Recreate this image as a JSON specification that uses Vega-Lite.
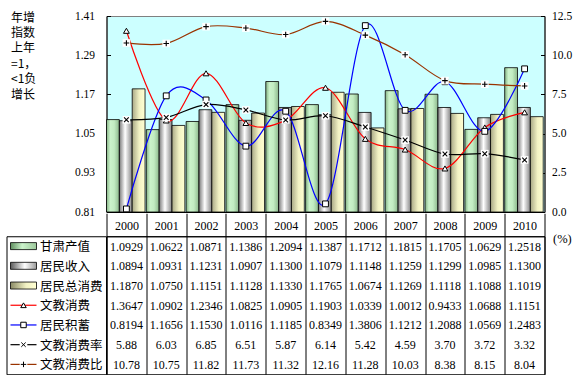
{
  "$schema": "https://vega.github.io/schema/vega-lite/v6.json",
  "padding": {"left": 5.5, "top": 9, "right": 0, "bottom": 0},
  "background": "white",
  "data": {"values": [
    {"year": "2000", "甘肃产值": 1.0929, "居民收入": 1.0894, "居民总消费": 1.1870, "文教消费": 1.3647, "居民积蓄": 0.8194, "文教消费率": 5.88, "文教消费比": 10.78},
    {"year": "2001", "甘肃产值": 1.0622, "居民收入": 1.0931, "居民总消费": 1.0750, "文教消费": 1.0902, "居民积蓄": 1.1656, "文教消费率": 6.03, "文教消费比": 10.75},
    {"year": "2002", "甘肃产值": 1.0871, "居民收入": 1.1231, "居民总消费": 1.1151, "文教消费": 1.2346, "居民积蓄": 1.1530, "文教消费率": 6.85, "文教消费比": 11.82},
    {"year": "2003", "甘肃产值": 1.1386, "居民收入": 1.0907, "居民总消费": 1.1128, "文教消费": 1.0825, "居民积蓄": 1.0116, "文教消费率": 6.51, "文教消费比": 11.73},
    {"year": "2004", "甘肃产值": 1.2094, "居民收入": 1.1300, "居民总消费": 1.1330, "文教消费": 1.0905, "居民积蓄": 1.1185, "文教消费率": 5.87, "文教消费比": 11.32},
    {"year": "2005", "甘肃产值": 1.1387, "居民收入": 1.1079, "居民总消费": 1.1765, "文教消费": 1.1903, "居民积蓄": 0.8349, "文教消费率": 6.14, "文教消费比": 12.16},
    {"year": "2006", "甘肃产值": 1.1712, "居民收入": 1.1148, "居民总消费": 1.0674, "文教消费": 1.0339, "居民积蓄": 1.3806, "文教消费率": 5.42, "文教消费比": 11.28},
    {"year": "2007", "甘肃产值": 1.1815, "居民收入": 1.1259, "居民总消费": 1.1269, "文教消费": 1.0012, "居民积蓄": 1.1212, "文教消费率": 4.59, "文教消费比": 10.03},
    {"year": "2008", "甘肃产值": 1.1705, "居民收入": 1.1299, "居民总消费": 1.1118, "文教消费": 0.9433, "居民积蓄": 1.2088, "文教消费率": 3.70, "文教消费比": 8.38},
    {"year": "2009", "甘肃产值": 1.0629, "居民收入": 1.0985, "居民总消费": 1.1088, "文教消费": 1.0688, "居民积蓄": 1.0569, "文教消费率": 3.72, "文教消费比": 8.15},
    {"year": "2010", "甘肃产值": 1.2518, "居民收入": 1.1300, "居民总消费": 1.1019, "文教消费": 1.1151, "居民积蓄": 1.2483, "文教消费率": 3.32, "文教消费比": 8.04}
  ]},
  "transform": [{"fold": ["甘肃产值", "居民收入", "居民总消费", "文教消费", "居民积蓄", "文教消费率", "文教消费比"], "as": ["s", "v"]}],
  "spacing": -5.75,
  "resolve": {"scale": {"x": "independent", "y": "independent", "shape": "independent", "color": "independent"}},
  "vconcat": [
    {
      "spacing": 0,
      "bounds": "flush",
      "resolve": {"scale": {"x": "independent", "y": "independent", "shape": "independent", "color": "independent"}},
      "hconcat": [
        {
          "width": 99.5,
          "height": 196,
          "view": {"stroke": null},
          "mark": {"type": "rule", "opacity": 0},
          "encoding": {}
        },
        {
          "width": 438,
          "height": 196,
          "view": {"fill": "#ccffff", "stroke": "#808080"},
          "resolve": {"scale": {"y": "independent"}, "axis": {"y": "independent"}},
          "encoding": {
            "x": {"field": "year", "type": "ordinal", "scale": {"paddingInner": 0, "paddingOuter": 0}, "axis": {"labels": false, "ticks": false, "title": null, "domainColor": "black", "grid": false}}
          },
          "layer": [
            {
              "encoding": {
                "y": {"field": "v", "type": "quantitative", "scale": {"domain": [0.81, 1.41], "nice": false, "zero": false},
                  "axis": {"values": [0.81, 0.93, 1.05, 1.17, 1.29, 1.41], "format": ".2f", "tickSize": -4, "tickColor": "black", "domainColor": "black", "labelPadding": 16, "labelFont": "Liberation Serif", "labelFontSize": 11.5, "labelColor": "black", "grid": false,
                    "title": ["年增", "指数", "上年", "=1，", "<1负", "增长"], "titleAngle": 0, "titleAlign": "left", "titleBaseline": "top", "titleX": -96, "titleY": -4, "titleFont": "Noto Sans CJK SC", "titleFontSize": 12, "titleFontWeight": "normal", "titleLineHeight": 15.4, "titleColor": "black"}}
              },
              "layer": [
                {
                  "transform": [{"filter": "datum.s === '甘肃产值'"}],
                  "mark": {"type": "bar", "stroke": "black", "strokeWidth": 0.8, "fill": {"gradient": "linear", "x1": 0, "y1": 0, "x2": 1, "y2": 0, "stops": [{"offset": 0, "color": "#86b486"}, {"offset": 0.3, "color": "#cbf3cb"}, {"offset": 0.6, "color": "#c2ecc2"}, {"offset": 1, "color": "#8cb88c"}]}},
                  "encoding": {
                    "xOffset": {"field": "s", "type": "nominal", "scale": {"domain": ["甘肃产值", "居民收入", "居民总消费"], "paddingInner": 0, "paddingOuter": 0.05, "align": 0}},
                    "y2": {"datum": 0.81}
                  }
                },
                {
                  "transform": [{"filter": "datum.s === '居民收入'"}],
                  "mark": {"type": "bar", "stroke": "black", "strokeWidth": 0.8, "fill": {"gradient": "linear", "x1": 0, "y1": 0, "x2": 1, "y2": 0, "stops": [{"offset": 0, "color": "#7a7a7a"}, {"offset": 0.45, "color": "#ffffff"}, {"offset": 1, "color": "#858585"}]}},
                  "encoding": {
                    "xOffset": {"field": "s", "type": "nominal", "scale": {"domain": ["甘肃产值", "居民收入", "居民总消费"], "paddingInner": 0, "paddingOuter": 0.05, "align": 0}},
                    "y2": {"datum": 0.81}
                  }
                },
                {
                  "transform": [{"filter": "datum.s === '居民总消费'"}],
                  "mark": {"type": "bar", "stroke": "black", "strokeWidth": 0.8, "fill": {"gradient": "linear", "x1": 0, "y1": 0, "x2": 1, "y2": 0, "stops": [{"offset": 0, "color": "#a8a886"}, {"offset": 0.55, "color": "#f2f2c4"}, {"offset": 1, "color": "#ffffd2"}]}},
                  "encoding": {
                    "xOffset": {"field": "s", "type": "nominal", "scale": {"domain": ["甘肃产值", "居民收入", "居民总消费"], "paddingInner": 0, "paddingOuter": 0.05, "align": 0}},
                    "y2": {"datum": 0.81}
                  }
                },
                {
                  "transform": [{"filter": "datum.s === '文教消费'"}],
                  "mark": {"type": "line", "color": "#ff0000", "strokeWidth": 1.2, "interpolate": "cardinal"}
                },
                {
                  "transform": [{"filter": "datum.s === '居民积蓄'"}],
                  "mark": {"type": "line", "color": "#0000ff", "strokeWidth": 1.2, "interpolate": "cardinal"}
                },
                {
                  "transform": [{"filter": "datum.s === '文教消费' || datum.s === '居民积蓄'"}],
                  "mark": {"type": "point", "filled": true, "fill": "white", "stroke": "black", "strokeWidth": 1, "size": 34, "opacity": 1},
                  "encoding": {
                    "shape": {"field": "s", "type": "nominal", "legend": null, "scale": {"domain": ["文教消费", "居民积蓄", "文教消费率", "文教消费比"], "range": ["triangle-up", "square", "M-1,-1L1,1M-1,1L1,-1", "M-1.2,0H1.2M0,-1.2V1.2"]}}
                  }
                }
              ]
            },
            {
              "encoding": {
                "y": {"field": "v", "type": "quantitative", "scale": {"domain": [0, 12.5], "nice": false, "zero": true},
                  "axis": {"orient": "right", "values": [0, 2.5, 5, 7.5, 10, 12.5], "format": ".1f", "tickSize": -4, "tickColor": "black", "domainColor": "black", "labelPadding": 11, "labelFont": "Liberation Serif", "labelFontSize": 11.5, "labelColor": "black", "grid": false, "title": null}}
              },
              "layer": [
                {
                  "transform": [{"filter": "datum.s === '文教消费率'"}],
                  "mark": {"type": "line", "color": "#000000", "strokeWidth": 1.2, "interpolate": "cardinal"}
                },
                {
                  "transform": [{"filter": "datum.s === '文教消费比'"}],
                  "mark": {"type": "line", "color": "#993300", "strokeWidth": 1.2, "interpolate": "cardinal"}
                },
                {
                  "transform": [{"filter": "datum.s === '文教消费率' || datum.s === '文教消费比'"}],
                  "mark": {"type": "point", "shape": "square", "filled": true, "color": "white", "size": 58, "opacity": 1}
                },
                {
                  "transform": [{"filter": "datum.s === '文教消费率' || datum.s === '文教消费比'"}],
                  "mark": {"type": "point", "filled": false, "stroke": "black", "strokeWidth": 1.1, "size": 22, "opacity": 1},
                  "encoding": {
                    "shape": {"field": "s", "type": "nominal", "legend": null, "scale": {"domain": ["文教消费", "居民积蓄", "文教消费率", "文教消费比"], "range": ["triangle-up", "square", "M-1,-1L1,1M-1,1L1,-1", "M-1.2,0H1.2M0,-1.2V1.2"]}}
                  }
                }
              ]
            }
          ]
        }
      ]
    },
    {
      "spacing": 0,
      "bounds": "flush",
      "resolve": {"scale": {"x": "independent", "y": "independent", "shape": "independent", "color": "independent"}},
      "hconcat": [
        {
          "width": 99.5,
          "height": 138,
          "view": {"stroke": "black", "fill": "white"},
          "transform": [{"filter": "datum.year === '2000'"}],
          "encoding": {
            "y": {"field": "s", "type": "nominal", "scale": {"domain": ["甘肃产值", "居民收入", "居民总消费", "文教消费", "居民积蓄", "文教消费率", "文教消费比"], "paddingInner": 0, "paddingOuter": 0}, "axis": null}
          },
          "layer": [
            {
              "transform": [{"filter": "datum.s === '甘肃产值'"}],
              "mark": {"type": "bar", "height": 7, "stroke": "black", "strokeWidth": 0.8, "fill": {"gradient": "linear", "x1": 0, "y1": 0, "x2": 1, "y2": 0, "stops": [{"offset": 0, "color": "#5f8f5f"}, {"offset": 0.45, "color": "#cbf3cb"}, {"offset": 1, "color": "#9cc89c"}]}},
              "encoding": {
                "x": {"datum": 4, "type": "quantitative", "scale": {"domain": [0, 99.5], "nice": false}, "axis": null},
                "x2": {"datum": 30}
              }
            },
            {
              "transform": [{"filter": "datum.s === '居民收入'"}],
              "mark": {"type": "bar", "height": 7, "stroke": "black", "strokeWidth": 0.8, "fill": {"gradient": "linear", "x1": 0, "y1": 0, "x2": 1, "y2": 0, "stops": [{"offset": 0, "color": "#5a5a5a"}, {"offset": 0.55, "color": "#ffffff"}, {"offset": 1, "color": "#9a9a9a"}]}},
              "encoding": {
                "x": {"datum": 4, "type": "quantitative", "scale": {"domain": [0, 99.5], "nice": false}, "axis": null},
                "x2": {"datum": 30}
              }
            },
            {
              "transform": [{"filter": "datum.s === '居民总消费'"}],
              "mark": {"type": "bar", "height": 7, "stroke": "black", "strokeWidth": 0.8, "fill": {"gradient": "linear", "x1": 0, "y1": 0, "x2": 1, "y2": 0, "stops": [{"offset": 0, "color": "#8a8a66"}, {"offset": 0.6, "color": "#f2f2c4"}, {"offset": 1, "color": "#ffffd2"}]}},
              "encoding": {
                "x": {"datum": 4, "type": "quantitative", "scale": {"domain": [0, 99.5], "nice": false}, "axis": null},
                "x2": {"datum": 30}
              }
            },
            {
              "transform": [{"filter": "datum.s === '文教消费' || datum.s === '居民积蓄' || datum.s === '文教消费率' || datum.s === '文教消费比'"}],
              "mark": {"type": "rule", "strokeWidth": 1.2},
              "encoding": {
                "x": {"datum": 4, "type": "quantitative", "scale": {"domain": [0, 99.5], "nice": false}, "axis": null},
                "x2": {"datum": 30},
                "color": {"field": "s", "type": "nominal", "legend": null, "scale": {"domain": ["文教消费", "居民积蓄", "文教消费率", "文教消费比"], "range": ["#ff0000", "#0000ff", "#000000", "#993300"]}}
              }
            },
            {
              "transform": [{"filter": "datum.s === '文教消费率' || datum.s === '文教消费比'"}],
              "mark": {"type": "point", "shape": "square", "filled": true, "color": "white", "size": 58, "opacity": 1},
              "encoding": {
                "x": {"datum": 17, "type": "quantitative", "scale": {"domain": [0, 99.5], "nice": false}, "axis": null}
              }
            },
            {
              "transform": [{"filter": "datum.s === '文教消费' || datum.s === '居民积蓄' || datum.s === '文教消费率' || datum.s === '文教消费比'"}],
              "mark": {"type": "point", "filled": true, "fill": "white", "stroke": "black", "strokeWidth": 1, "size": 30, "opacity": 1},
              "encoding": {
                "x": {"datum": 17, "type": "quantitative", "scale": {"domain": [0, 99.5], "nice": false}, "axis": null},
                "shape": {"field": "s", "type": "nominal", "legend": null, "scale": {"domain": ["文教消费", "居民积蓄", "文教消费率", "文教消费比"], "range": ["triangle-up", "square", "M-0.8,-0.8L0.8,0.8M-0.8,0.8L0.8,-0.8", "M-1,0H1M0,-1V1"]}}
              }
            },
            {
              "mark": {"type": "text", "align": "left", "baseline": "middle", "font": "Noto Sans CJK SC", "fontSize": 12.5, "color": "black", "dy": 1},
              "encoding": {
                "x": {"datum": 33.5, "type": "quantitative", "scale": {"domain": [0, 99.5], "nice": false}, "axis": null},
                "text": {"field": "s"}
              }
            }
          ]
        },
        {
          "width": 438,
          "height": 138,
          "view": {"stroke": "black", "fill": "white"},
          "encoding": {
            "x": {"field": "year", "type": "ordinal", "scale": {"paddingInner": 0, "paddingOuter": 0},
              "axis": {"orient": "top", "tickBand": "extent", "tickSize": 23, "tickColor": "black", "grid": true, "gridColor": "black", "gridOpacity": 1, "domainColor": "black", "labelFont": "Liberation Serif", "labelFontSize": 12, "labelColor": "black", "labelAngle": 0, "labelBaseline": "middle", "labelPadding": -12, "title": null}},
            "y": {"field": "s", "type": "nominal", "scale": {"domain": ["甘肃产值", "居民收入", "居民总消费", "文教消费", "居民积蓄", "文教消费率", "文教消费比"], "paddingInner": 0, "paddingOuter": 0},
              "axis": {"orient": "right", "labels": false, "ticks": false, "domain": false, "grid": false, "title": "(%)", "titleAngle": 0, "titleAlign": "left", "titleBaseline": "middle", "titleX": 8, "titleY": 2, "titleFont": "Liberation Serif", "titleFontSize": 12.5, "titleFontWeight": "normal", "titleColor": "black"}}
          },
          "layer": [
            {
              "transform": [{"filter": "datum.s !== '文教消费率' && datum.s !== '文教消费比'"}],
              "mark": {"type": "text", "font": "Liberation Serif", "fontSize": 12, "color": "black", "baseline": "middle", "dy": 0.5},
              "encoding": {
                "text": {"field": "v", "type": "quantitative", "format": ".4f"}
              }
            },
            {
              "transform": [{"filter": "datum.s === '文教消费率' || datum.s === '文教消费比'"}],
              "mark": {"type": "text", "font": "Liberation Serif", "fontSize": 12, "color": "black", "baseline": "middle", "dy": 0.5},
              "encoding": {
                "text": {"field": "v", "type": "quantitative", "format": ".2f"}
              }
            }
          ]
        }
      ]
    }
  ]
}
